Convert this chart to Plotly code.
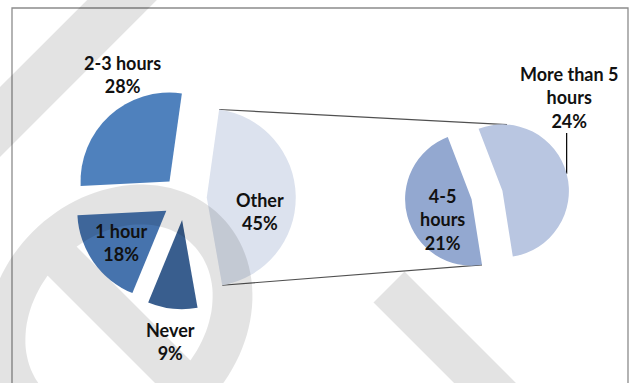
import math
import plotly.graph_objects as go

W, H = 633, 383

# ---- data -------------------------------------------------------------
# Primary pie; "Other" is the sum of the two categories split out on the right
main_labels = ["Other", "Never", "1 hour", "2-3 hours"]
main_values = [45, 9, 18, 28]
main_colors = ["#dce2ee", "#395e8e", "#4673ad", "#4f81bd"]

# Secondary pie (breakdown of "Other")
sub_labels = ["More than 5 hours", "4-5 hours"]
sub_values = [24, 21]
sub_colors = ["#b9c6e1", "#93a8d0"]

# how each category name is wrapped in its data label
label_lines = {
    "Other": "Other",
    "Never": "Never",
    "1 hour": "1 hour",
    "2-3 hours": "2-3 hours",
    "More than 5 hours": "More than 5<br>hours",
    "4-5 hours": "4-5<br>hours",
}
TOTAL = sum(main_values)

# ---- layout geometry (pixels) ----------------------------------------
MAIN_C, MAIN_R, MAIN_PULL, MAIN_ROT = (184.5, 198.0), 89.0, 0.25, 8
SUB_C, SUB_R, SUB_PULL, SUB_ROT = (487.0, 195.0), 66.5, 0.24, -21


def pie_domain(c, r, pull):
    half = r * (1 + pull)
    return dict(x=[(c[0] - half) / W, (c[0] + half) / W],
                y=[1 - (c[1] + half) / H, 1 - (c[1] - half) / H])


def slice_spans(values, rot):
    tot, a, out = sum(values), rot, []
    for v in values:
        span = 360.0 * v / tot
        out.append((a, a + span))
        a += span
    return out


def polar(c, r, deg):
    t = math.radians(deg)
    return (c[0] + r * math.sin(t), c[1] - r * math.cos(t))


def apex(c, r, pull, span):
    return polar(c, pull * r, (span[0] + span[1]) / 2)


main_spans = slice_spans(main_values, MAIN_ROT)
sub_spans = slice_spans(sub_values, SUB_ROT)

fig = go.Figure()

fig.add_trace(go.Pie(
    labels=main_labels, values=main_values, sort=False, direction="clockwise",
    rotation=MAIN_ROT, pull=[MAIN_PULL] * len(main_values),
    marker=dict(colors=main_colors, line=dict(width=0)),
    textinfo="none", hoverinfo="label+percent", showlegend=False,
    domain=pie_domain(MAIN_C, MAIN_R, MAIN_PULL),
))
fig.add_trace(go.Pie(
    labels=sub_labels, values=sub_values, sort=False, direction="clockwise",
    rotation=SUB_ROT, pull=[SUB_PULL] * len(sub_values),
    marker=dict(colors=sub_colors, line=dict(width=0)),
    textinfo="none", hoverinfo="label+value", showlegend=False,
    domain=pie_domain(SUB_C, SUB_R, SUB_PULL),
))

# ---- series lines joining "Other" to the secondary pie ------------------
other_apex = apex(MAIN_C, MAIN_R, MAIN_PULL, main_spans[0])
o_top = polar(other_apex, MAIN_R, main_spans[0][0])
o_bot = polar(other_apex, MAIN_R, main_spans[0][1])
m5_apex = apex(SUB_C, SUB_R, SUB_PULL, sub_spans[0])
s45_apex = apex(SUB_C, SUB_R, SUB_PULL, sub_spans[1])
s_top = polar(m5_apex, SUB_R, 4)
s_bot = polar(s45_apex, SUB_R, sub_spans[1][0])

fig.add_trace(go.Scatter(
    x=[o_top[0], s_top[0], None, o_bot[0], s_bot[0]],
    y=[o_top[1], s_top[1], None, o_bot[1], s_bot[1]],
    mode="lines", line=dict(color="#505050", width=1.2),
    hoverinfo="skip", showlegend=False,
))

# leader line for the "More than 5 hours" label
m5_edge = polar(m5_apex, SUB_R, (sub_spans[0][0] + sub_spans[0][1]) / 2)
fig.add_trace(go.Scatter(
    x=[m5_edge[0], m5_edge[0]], y=[m5_edge[1], 133],
    mode="lines", line=dict(color="#000000", width=1.2),
    hoverinfo="skip", showlegend=False,
))

# ---- data labels -----------------------------------------------------
label_pos = {
    "Other": (260, 211),
    "Never": (170, 341),
    "1 hour": (121, 242),
    "2-3 hours": (122, 74),
    "More than 5 hours": (569, 97),
    "4-5 hours": (442, 219),
}
annotations = []
for name, val in list(zip(main_labels, main_values)) + list(zip(sub_labels, sub_values)):
    x, y = label_pos[name]
    pct = round(100 * val / TOTAL)
    annotations.append(dict(
        x=x, y=y, xref="x", yref="y", showarrow=False,
        text=f"{label_lines[name]}<br>{pct}%", align="center",
        xanchor="center", yanchor="middle",
        font=dict(family="Lato", size=18, color="#111111", weight="bold"),
    ))

# ---- translucent stamp drawn over the chart -------------------------
S2 = math.sqrt(2)


def ellipse45(c, a, b, n=120):
    """Ellipse whose 'a' axis points up-right and 'b' axis down-right."""
    pts = []
    for k in range(n):
        t = 2 * math.pi * k / n
        du, dv = a * math.cos(t), b * math.sin(t)
        pts.append((c[0] + (du + dv) / S2, c[1] + (dv - du) / S2))
    return pts


def band45(c, u0, u1, v0, v1):
    """Rectangle in the rotated (u = up-right, v = down-right) frame around c."""
    return [(c[0] + (du + dv) / S2, c[1] + (dv - du) / S2)
            for du, dv in [(u0, v0), (u0, v1), (u1, v1), (u1, v0)]]


def signed_area(pts):
    n = len(pts)
    return sum(pts[i][0] * pts[(i + 1) % n][1] - pts[(i + 1) % n][0] * pts[i][1]
               for i in range(n)) / 2


def orient(pts, positive=True):
    return pts if (signed_area(pts) > 0) == positive else pts[::-1]


def subpath(pts):
    return "M " + " L ".join(f"{x:.1f} {y:.1f}" for x, y in pts) + " Z"


STAMP_C = (119.0, 318.0)
ring_outer = orient(ellipse45(STAMP_C, 144, 122), True)
ring_inner = orient(ellipse45(STAMP_C, 104, 82), False)
slash = orient(band45(STAMP_C, -20.5, 20.5, -112, 112), True)
# strips belonging to the neighbouring stamps
strip_tl = orient(band45((61.0, 61.0), -300, 300, -24.7, 24.7), True)
strip_br = orient(band45((389.0, 287.0), -21.9, 21.9, 0, 400), True)
stamp_path = " ".join(subpath(p) for p in [ring_outer, ring_inner, slash, strip_tl, strip_br])

shapes = [
    dict(type="rect", xref="x", yref="y", x0=12, x1=628, y0=8, y1=400,
         line=dict(color="#8c8c8c", width=1.3), fillcolor="rgba(0,0,0,0)", layer="below"),
    dict(type="path", xref="x", yref="y", path=stamp_path, fillrule="nonzero",
         fillcolor="rgba(0,0,0,0.11)", line=dict(width=0), layer="above"),
]

fig.update_layout(
    width=W, height=H, autosize=False,
    margin=dict(l=0, r=0, t=0, b=0),
    paper_bgcolor="white", plot_bgcolor="white",
    xaxis=dict(range=[0, W], visible=False, fixedrange=True, domain=[0, 1]),
    yaxis=dict(range=[H, 0], visible=False, fixedrange=True, domain=[0, 1]),
    shapes=shapes, annotations=annotations, showlegend=False,
)

fig.write_html("out.html")
